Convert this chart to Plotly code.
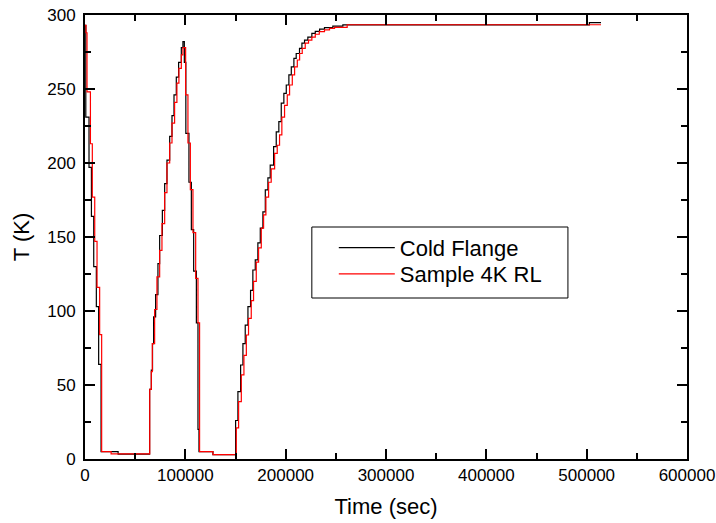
import plotly.graph_objects as go

# ---- data ----
cold_flange_t = [0, 800, 4000, 6400, 8700, 11300, 13600, 16000, 33000,
                 64400, 66100, 67300, 68400, 70400, 72700, 74400, 77100, 79400, 81700,
                 84400, 86700, 88700, 91000, 93300, 96000, 97600, 99000, 100500,
                 103600, 106000, 108300, 111000, 112600, 113600, 127500,
                 150100, 152400, 155100, 157400, 159700, 162400, 165000, 167300,
                 169700, 172300, 174700, 177300, 179700, 182300, 184600, 188000,
                 190600, 193200, 195600, 198200, 200600, 203200, 205600, 208200,
                 210500, 213800, 216200, 218800, 222100, 226100, 229500, 233800,
                 238700, 247000, 257000, 502700, 514300]
cold_flange_T = [293, 231, 197, 164, 130, 103, 64, 5, 3.3,
                 47, 60, 78, 96, 111, 132, 151, 168, 186, 202,
                 218, 232, 246, 258, 268, 278, 282, 268, 220,
                 187, 155, 127, 92, 20, 5, 3,
                 26, 45.5, 63.5, 78, 90.5, 103, 114, 127.7,
                 134.5, 146, 156, 167, 181.8, 190, 198.6, 211,
                 221, 228, 240.5, 247, 252.7, 259.5, 265, 270.7,
                 274, 277.5, 281, 283, 285, 287.6, 289, 290.5,
                 291.5, 292.5, 293.3, 294.8, 294.8]

sample_t = [0, 1000, 2000, 5400, 7300, 9700, 12000, 14600, 16600, 26000,
            64500, 66100, 67100, 69400, 71700, 74400, 76700, 79400, 81700,
            84400, 86700, 89300, 91600, 93600, 96000, 97600, 100300,
            102600, 105000, 107600, 110300, 112600, 114200, 127500,
            150800, 153100, 155800, 158400, 160800, 163000, 165700, 168000,
            170700, 173000, 175700, 178000, 180300, 183000, 185600, 189000,
            191600, 193900, 196200, 198900, 201600, 203900, 206600, 208900,
            211600, 213900, 216500, 219500, 222800, 226100, 229500, 233500,
            238700, 243700, 248700, 261300, 514300]
sample_T = [293, 288, 248, 213, 177, 147, 116, 84, 5, 3.5,
            47, 59, 78, 101, 123, 141, 159, 180, 200,
            213.5, 227, 241, 254, 264, 273, 278, 246,
            213.5, 182, 153, 122, 92, 5, 3,
            21, 38.7, 56.8, 70, 83.8, 95, 107, 120,
            133, 142.6, 156, 165, 177, 187, 196, 206.5,
            212, 219, 231, 239, 246, 252.7, 259.5, 265,
            269.6, 274, 277.5, 281, 283, 285, 287, 288.7,
            290, 291, 291.7, 293.4, 293.4]

x_ticks = [0, 100000, 200000, 300000, 400000, 500000, 600000]
y_ticks = [0, 50, 100, 150, 200, 250, 300]

FONT = "Liberation Sans, Arial, sans-serif"

fig = go.Figure()
fig.add_trace(go.Scatter(x=cold_flange_t, y=cold_flange_T, mode="lines",
                         name="Cold Flange", legend="legend",
                         line=dict(color="#000000", width=1.2, shape="hv")))
fig.add_trace(go.Scatter(x=sample_t, y=sample_T, mode="lines",
                         name="Sample 4K RL", legend="legend2",
                         line=dict(color="#ff0000", width=1.2, shape="hv")))

axis_common = dict(showline=True, linecolor="black", linewidth=2, mirror="ticks",
                   ticks="inside", tickcolor="black", tickwidth=2, ticklen=10,
                   showgrid=False, zeroline=False, ticklabeloverflow="allow",
                   tickfont=dict(family=FONT, size=17, color="black"))

fig.update_xaxes(range=[0, 600000], tickvals=x_ticks, ticktext=[str(v) for v in x_ticks],
                 minor=dict(dtick=50000, tick0=0, ticks="inside", ticklen=6, tickwidth=2, tickcolor="black"),
                 title=dict(text="Time (sec)", font=dict(family=FONT, size=22, color="black"), standoff=14),
                 ticklabelstandoff=0, automargin=False, **axis_common)
fig.update_yaxes(range=[0, 300], tickvals=y_ticks, ticktext=[str(v) for v in y_ticks],
                 minor=dict(dtick=25, tick0=0, ticks="inside", ticklen=6, tickwidth=2, tickcolor="black"),
                 title=dict(text="T (K)", font=dict(family=FONT, size=22, color="black"), standoff=12),
                 ticklabelstandoff=4, automargin=False, **axis_common)

# legend frame
fig.add_shape(type="rect", xref="paper", yref="paper",
              x0=0.3768, x1=0.8022, y0=0.3626, y1=0.5225,
              line=dict(color="black", width=1), fillcolor="white", layer="below")

legend_style = dict(xanchor="left", yanchor="top", borderwidth=0, bgcolor="rgba(0,0,0,0)",
                    font=dict(family=FONT, size=22, color="black"), itemwidth=56)

fig.update_layout(
    width=716, height=523,
    margin=dict(l=85, r=29, t=15, b=64),
    paper_bgcolor="white", plot_bgcolor="rgba(0,0,0,0)",
    showlegend=True,
    hovermode=False,
    legend=dict(x=0.4133, y=0.523, **legend_style),
    legend2=dict(x=0.4133, y=0.464, **legend_style),
)

fig.write_html("out.html",
               config={"displayModeBar": False},
               post_script="document.body.style.margin='0';document.body.style.overflow='hidden';")
